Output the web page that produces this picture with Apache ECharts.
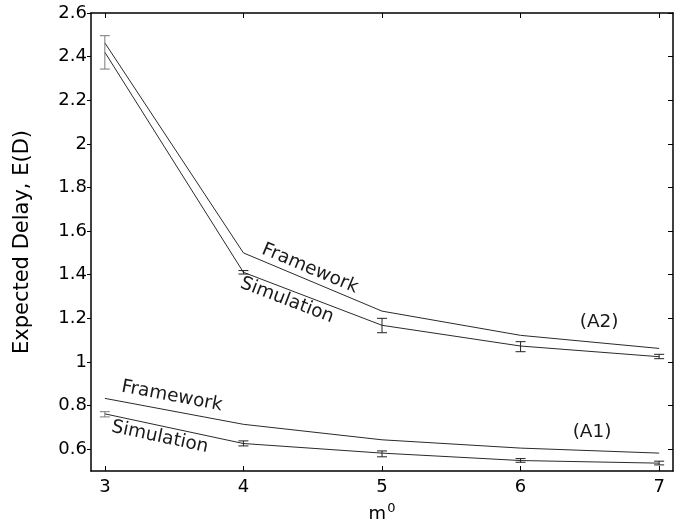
<!DOCTYPE html>
<html>
<head>
<meta charset="utf-8">
<script src="https://cdn.jsdelivr.net/npm/echarts@6/dist/echarts.min.js"></script>
<style>html,body{margin:0;padding:0;background:#fff}#c{width:688px;height:531px}</style>
</head>
<body>
<div id="c"></div>
<script>
// ---- data ----
var mValues = [3, 4, 5, 6, 7];
var xTicks = [3, 4, 5, 6, 7];
var yTicks = [0.6, 0.8, 1, 1.2, 1.4, 1.6, 1.8, 2, 2.2, 2.4, 2.6];

var a2Framework  = [2.463, 1.500, 1.233, 1.122, 1.062];
var a2Simulation = [2.420, 1.411, 1.168, 1.073, 1.024];
var a2SimLow     = [2.343, 1.403, 1.134, 1.047, 1.015];
var a2SimHigh    = [2.496, 1.419, 1.200, 1.093, 1.035];

var a1Framework  = [0.833, 0.714, 0.643, 0.605, 0.582];
var a1Simulation = [0.762, 0.626, 0.582, 0.548, 0.536];
var a1SimLow     = [0.748, 0.615, 0.565, 0.540, 0.528];
var a1SimHigh    = [0.772, 0.638, 0.592, 0.557, 0.545];

var labelTexts = ['Framework', 'Simulation', 'Framework', 'Simulation', '(A2)', '(A1)'];
var labelX     = [4.48, 4.314, 3.484, 3.397, 6.567, 6.516];
var labelY     = [1.428, 1.282, 0.843, 0.655, 1.181, 0.68];
// which curve segment each label follows (for its slant), null = horizontal
var labelCurve = [a2Framework, a2Simulation, a1Framework, a1Simulation, null, null];
var labelSeg   = [1, 1, 0, 0, null, null];

// ---- build ----
function pairs(ys) { return mValues.map(function (x, i) { return [x, ys[i]]; }); }
function errData(mid, lo, hi) { return mValues.map(function (x, i) { return [x, lo[i], hi[i]]; }); }

var FONT = 'DejaVu Sans, sans-serif';
var lineColor = '#2a2a2a';

function lineSeries(ys) {
  return {
    type: 'line', data: pairs(ys), symbol: 'none', xAxisIndex: 0, yAxisIndex: 0,
    lineStyle: { color: lineColor, width: 1 }, silent: true, animation: false, z: 3
  };
}

function errSeries(mid, lo, hi) {
  return {
    type: 'custom', xAxisIndex: 0, yAxisIndex: 0, data: errData(mid, lo, hi), animation: false, silent: true, z: 4,
    renderItem: function (params, api) {
      var x = api.value(0);
      var p1 = api.coord([x, api.value(1)]);
      var p2 = api.coord([x, api.value(2)]);
      var hw = 5;
      var col = params.dataIndex === 0 ? '#7a7a7a' : '#222';
      var st = { stroke: col, lineWidth: 1 };
      return {
        type: 'group', children: [
          { type: 'line', shape: { x1: p1[0], y1: p1[1], x2: p2[0], y2: p2[1] }, style: st },
          { type: 'line', shape: { x1: p1[0] - hw, y1: p1[1], x2: p1[0] + hw, y2: p1[1] }, style: st },
          { type: 'line', shape: { x1: p2[0] - hw, y1: p2[1], x2: p2[0] + hw, y2: p2[1] }, style: st }
        ]
      };
    }
  };
}

var labelData = labelTexts.map(function (t, i) { return [labelX[i], labelY[i], i]; });

var option = {
  animation: false,
  backgroundColor: '#fff',
  grid: { left: 91, right: 15, top: 13, bottom: 60, containLabel: false },
  xAxis: [{
    type: 'value', min: 2.9, max: 7.1, position: 'bottom',
    axisLine: { show: true, onZero: false, lineStyle: { color: '#000', width: 1.5 } },
    axisTick: { show: true, inside: true, length: 5, customValues: xTicks, lineStyle: { color: '#000' } },
    axisLabel: { customValues: xTicks, color: '#000', fontSize: 18, fontFamily: FONT, margin: 7 },
    splitLine: { show: false },
    name: '{m|m}{s|0}', nameLocation: 'middle', nameGap: 31,
    nameTextStyle: {
      rich: {
        m: { fontSize: 18, fontFamily: FONT, color: '#000', lineHeight: 24 },
        s: { fontSize: 13, fontFamily: FONT, color: '#000', verticalAlign: 'top', lineHeight: 24, padding: [0, 0, 10, 1] }
      }
    }
  }, {
    type: 'value', min: 2.9, max: 7.1, position: 'top',
    axisLine: { show: true, onZero: false, lineStyle: { color: '#000', width: 1.5 } },
    axisTick: { show: true, inside: true, length: 5, customValues: xTicks, lineStyle: { color: '#000' } },
    axisLabel: { show: false }, splitLine: { show: false }
  }],
  yAxis: [{
    type: 'value', min: 0.5, max: 2.6, position: 'left',
    axisLine: { show: true, onZero: false, lineStyle: { color: '#000', width: 1.5 } },
    axisTick: { show: true, inside: false, length: 4, customValues: yTicks, lineStyle: { color: '#000' } },
    axisLabel: { customValues: yTicks, color: '#000', fontSize: 18, fontFamily: FONT, margin: 4 },
    splitLine: { show: false },
    name: 'Expected Delay, E(D)', nameLocation: 'middle', nameGap: 58, nameRotate: 90,
    nameTextStyle: { fontSize: 21, fontFamily: FONT, color: '#000' }
  }, {
    type: 'value', min: 0.5, max: 2.6, position: 'right',
    axisLine: { show: true, onZero: false, lineStyle: { color: '#000', width: 1.5 } },
    axisTick: { show: true, inside: true, length: 5, customValues: yTicks, lineStyle: { color: '#000' } },
    axisLabel: { show: false }, splitLine: { show: false }
  }],
  series: [
    lineSeries(a2Framework), lineSeries(a2Simulation),
    lineSeries(a1Framework), lineSeries(a1Simulation),
    errSeries(a2Simulation, a2SimLow, a2SimHigh),
    errSeries(a1Simulation, a1SimLow, a1SimHigh),
    {
      type: 'custom', xAxisIndex: 0, yAxisIndex: 0, data: labelData, animation: false, silent: true, z: 5,
      renderItem: function (params, api) {
        var i = api.value(2);
        var p = api.coord([api.value(0), api.value(1)]);
        var rot = 0;
        var curve = labelCurve[i];
        if (curve) {
          var s = labelSeg[i];
          var q1 = api.coord([mValues[s], curve[s]]);
          var q2 = api.coord([mValues[s + 1], curve[s + 1]]);
          rot = -Math.atan2(q2[1] - q1[1], q2[0] - q1[0]);
        }
        return {
          type: 'text', x: p[0], y: p[1], rotation: rot,
          style: { text: labelTexts[i], fill: '#1a1a1a', fontSize: 18.5, fontFamily: FONT, align: 'center', verticalAlign: 'middle' }
        };
      }
    }
  ]
};

var chart = echarts.init(document.getElementById('c'), null, { renderer: 'canvas' });
chart.setOption(option);
</script>
</body>
</html>
